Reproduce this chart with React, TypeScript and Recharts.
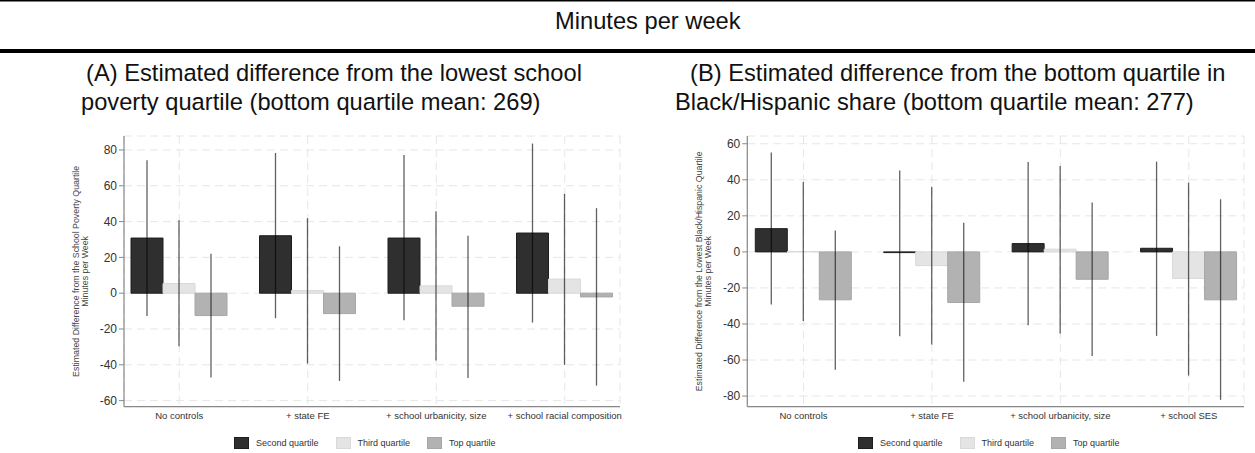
import React from "react";
import {
  BarChart,
  Bar,
  XAxis,
  YAxis,
  CartesianGrid,
  ErrorBar,
  Legend,
  Label,
} from "recharts";

// Panel A: difference from lowest school poverty quartile
const categoriesA = ["No controls", "+ state FE", "+ school urbanicity, size", "+ school racial composition"];
const secondA = [30.8, 32.1, 30.8, 33.6];
const secondLowA = [-12.7, -14.0, -15.1, -16.4];
const secondHighA = [74.2, 78.3, 77.2, 83.6];
const thirdA = [5.4, 1.5, 4.1, 7.9];
const thirdLowA = [-29.7, -39.3, -37.6, -40.0];
const thirdHighA = [40.7, 41.9, 45.8, 55.5];
const topA = [-12.5, -11.4, -7.3, -2.1];
const topLowA = [-47.1, -49.0, -47.3, -51.6];
const topHighA = [22.1, 26.2, 32.1, 47.5];
const ticksA = [-60, -40, -20, 0, 20, 40, 60, 80];

// Panel B: difference from bottom Black/Hispanic share quartile
const categoriesB = ["No controls", "+ state FE", "+ school urbanicity, size", "+ school SES"];
const secondB = [12.9, -0.4, 4.6, 2.0];
const secondLowB = [-29.2, -46.8, -40.7, -46.6];
const secondHighB = [55.1, 45.1, 49.9, 50.1];
const thirdB = [0.2, -7.6, 1.5, -14.8];
const thirdLowB = [-38.3, -51.4, -45.3, -68.6];
const thirdHighB = [38.8, 36.2, 47.7, 38.4];
const topB = [-26.6, -28.1, -15.2, -26.6];
const topLowB = [-65.4, -72.1, -57.7, -82.1];
const topHighB = [11.8, 16.1, 27.4, 29.2];
const ticksB = [-80, -60, -40, -20, 0, 20, 40, 60];

const seriesNames = ["Second quartile", "Third quartile", "Top quartile"];
const FONT = "'Liberation Sans', Arial, Helvetica, sans-serif";
const COLORS = ["#2f2f2f", "#e4e4e4", "#b2b2b2"];
const BORDERS = ["#1e1e1e", "#d9d9d9", "#a6a6a6"];

function buildRows(
  cats: string[],
  s: number[], sLo: number[], sHi: number[],
  t: number[], tLo: number[], tHi: number[],
  p: number[], pLo: number[], pHi: number[]
) {
  return cats.map((name, i) => ({
    name,
    second: s[i],
    secondErr: [s[i] - sLo[i], sHi[i] - s[i]],
    third: t[i],
    thirdErr: [t[i] - tLo[i], tHi[i] - t[i]],
    top: p[i],
    topErr: [p[i] - pLo[i], pHi[i] - p[i]],
  }));
}

const rowsA = buildRows(categoriesA, secondA, secondLowA, secondHighA, thirdA, thirdLowA, thirdHighA, topA, topLowA, topHighA);
const rowsB = buildRows(categoriesB, secondB, secondLowB, secondHighB, thirdB, thirdLowB, thirdHighB, topB, topLowB, topHighB);

function QuartileLegend() {
  return (
    <div style={{ display: "flex", alignItems: "center", fontFamily: FONT, fontSize: 9, color: "#333" }}>
      {seriesNames.map((n, i) => (
        <div key={n} style={{ display: "flex", alignItems: "center", marginRight: 17 }}>
          <span
            style={{
              width: 15,
              height: 12,
              background: COLORS[i],
              border: `1px solid ${BORDERS[i]}`,
              boxSizing: "border-box",
              marginRight: 7,
            }}
          />
          <span style={{ whiteSpace: "nowrap" }}>{n}</span>
        </div>
      ))}
    </div>
  );
}

function yLabel(line1: string) {
  return (props: any) => {
    const vb = props.viewBox || {};
    const cy = vb.y + vb.height / 2;
    const x1 = vb.x - 8;
    const x2 = vb.x + 1;
    return (
      <g fontFamily={FONT} fontSize={8.8} fill="#444">
        <text x={x1} y={cy} transform={`rotate(-90 ${x1} ${cy})`} textAnchor="middle" dominantBaseline="central">
          {line1}
        </text>
        <text x={x2} y={cy} transform={`rotate(-90 ${x2} ${cy})`} textAnchor="middle" dominantBaseline="central">
          Minutes per Week
        </text>
      </g>
    );
  };
}

function Panel({
  rows,
  ticks,
  domain,
  width,
  marginLeft,
  marginRight,
  padLeft,
  padRight,
  ylab,
  legendLeft,
}: {
  rows: any[];
  ticks: number[];
  domain: [number, number];
  width: number;
  marginLeft: number;
  marginRight: number;
  padLeft: number;
  padRight: number;
  ylab: string;
  legendLeft: number;
}) {
  const errStroke = "rgba(0,0,0,0.62)";
  return (
    <BarChart
      width={width}
      height={323}
      data={rows}
      margin={{ top: 6, right: marginRight, left: marginLeft, bottom: 26.3 }}
      barCategoryGap={16}
      barGap={0}
    >
      <CartesianGrid stroke="#e6e6e6" strokeDasharray="8 5" />
      <XAxis
        dataKey="name"
        height={20}
        padding={{ left: padLeft, right: padRight }}
        axisLine={{ stroke: "#888", strokeWidth: 1.2 }}
        tickLine={false}
        tickSize={3}
        tickMargin={3}
        interval={0}
        tick={{ fontSize: 9.5, fill: "#333", fontFamily: FONT }}
      />
      <YAxis
        type="number"
        width={40}
        domain={domain}
        ticks={ticks}
        allowDataOverflow
        axisLine={{ stroke: "#888", strokeWidth: 1.2 }}
        tickLine={{ stroke: "#888" }}
        tickSize={5}
        tickMargin={2}
        tick={{ fontSize: 12, fill: "#333", fontFamily: FONT }}
        label={<Label content={yLabel(ylab)} />}
      />
      <Legend
        verticalAlign="middle"
        align="center"
        layout="horizontal"
        wrapperStyle={{ top: 307, left: legendLeft, width: 400 }}
        content={() => <QuartileLegend />}
      />
      <Bar dataKey="second" name={seriesNames[0]} fill={COLORS[0]} stroke={BORDERS[0]} isAnimationActive={false}>
        <ErrorBar dataKey="secondErr" width={0} stroke={errStroke} strokeWidth={1.3} isAnimationActive={false} />
      </Bar>
      <Bar dataKey="third" name={seriesNames[1]} fill={COLORS[1]} stroke={BORDERS[1]} isAnimationActive={false}>
        <ErrorBar dataKey="thirdErr" width={0} stroke={errStroke} strokeWidth={1.3} isAnimationActive={false} />
      </Bar>
      <Bar dataKey="top" name={seriesNames[2]} fill={COLORS[2]} stroke={BORDERS[2]} isAnimationActive={false}>
        <ErrorBar dataKey="topErr" width={0} stroke={errStroke} strokeWidth={1.3} isAnimationActive={false} />
      </Bar>
    </BarChart>
  );
}

export default function App() {
  const fs = 23.7;
  return (
    <div
      style={{
        position: "absolute",
        left: 0,
        top: 0,
        width: 1255,
        height: 453,
        background: "#fff",
        fontFamily: FONT,
        overflow: "hidden",
      }}
    >
      <svg width={1255} height={125} style={{ position: "absolute", left: 0, top: 0 }}>
        <rect x={0} y={0} width={1255} height={1.5} fill="#000" />
        <text x={555} y={29} fontSize={fs} fontFamily={FONT} fill="#111">
          Minutes per week
        </text>
        <rect x={0} y={49} width={1255} height={4} fill="#000" />
        <text x={86} y={81} fontSize={fs} fontFamily={FONT} fill="#111">
          (A) Estimated difference from the lowest school
        </text>
        <text x={81} y={110} fontSize={fs} fontFamily={FONT} fill="#111">
          poverty quartile (bottom quartile mean: 269)
        </text>
        <text x={690} y={81} fontSize={fs} fontFamily={FONT} fill="#111">
          (B) Estimated difference from the bottom quartile in
        </text>
        <text x={675} y={110} fontSize={fs} fontFamily={FONT} fill="#111">
          Black/Hispanic share (bottom quartile mean: 277)
        </text>
      </svg>

      <div style={{ position: "absolute", left: 0, top: 130 }}>
        <Panel
          rows={rowsA}
          ticks={ticksA}
          domain={[-63.4, 87.8]}
          width={630}
          marginLeft={84}
          marginRight={10}
          padLeft={-9}
          padRight={-9}
          ylab="Estimated Difference from the School Poverty Quartile"
          legendLeft={234}
        />
      </div>

      <div style={{ position: "absolute", left: 630, top: 130 }}>
        <Panel
          rows={rowsB}
          ticks={ticksB}
          domain={[-85.9, 64.3]}
          width={625}
          marginLeft={77.3}
          marginRight={11}
          padLeft={-8}
          padRight={-9}
          ylab="Estimated Difference from the Lowest Black/Hispanic Quartile"
          legendLeft={228}
        />
      </div>
    </div>
  );
}
